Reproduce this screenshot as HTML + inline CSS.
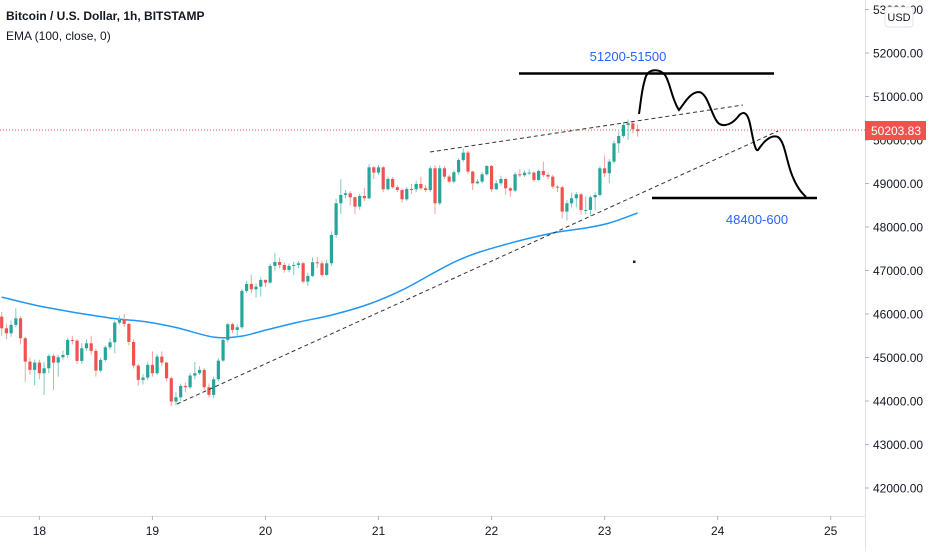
<!DOCTYPE html>
<html><head><meta charset="utf-8">
<style>
html,body{margin:0;padding:0;background:#fff;}
body{width:932px;height:550px;overflow:hidden;font-family:"Liberation Sans",sans-serif;}
svg text{font-family:"Liberation Sans",sans-serif;}
</style></head>
<body>
<svg id="chart" width="932" height="550" viewBox="0 0 932 550" xmlns="http://www.w3.org/2000/svg">
  <rect x="0" y="0" width="932" height="550" fill="#ffffff"/>
  <line x1="865.5" y1="0" x2="865.5" y2="550" stroke="#e0e3eb"/>
  <line x1="0" y1="516.5" x2="865" y2="516.5" stroke="#e0e3eb"/>
  <g id="yaxis"></g>
  <g id="xaxis"></g>
  <line x1="0" y1="130" x2="865" y2="130" stroke="#ef5350" stroke-width="1" stroke-dasharray="1,2"/>
  <g id="ema"></g>
  <g id="candles"></g>
  <g>
    <line x1="177" y1="404" x2="778" y2="131" stroke="#333" stroke-width="1" stroke-dasharray="4,3"/>
    <line x1="430" y1="152" x2="743" y2="105" stroke="#333" stroke-width="1" stroke-dasharray="4,3"/>
    <line x1="519" y1="73.5" x2="774" y2="73.5" stroke="#000" stroke-width="2.5"/>
    <line x1="652" y1="198" x2="817" y2="198" stroke="#000" stroke-width="2.5"/>
    <path d="M639,114 C641,100 642,88 646,76 C650,68 660,69 665,75 C670,82 672,100 679,110 C684,104 690,92 699,92 C707,93 710,110 716,120 C720,128 730,126 737,118 C742,111 747,110 750,124 C753,138 755,152 758,150 C762,144 770,134 778,137 C785,142 786,160 792,175 C797,188 802,193 806,197" fill="none" stroke="#000" stroke-width="2"/>
    <text x="628" y="61" font-size="13" fill="#2962ff" text-anchor="middle">51200-51500</text>
    <text x="757" y="224" font-size="13" fill="#2962ff" text-anchor="middle">48400-600</text>
    <rect x="633" y="260.5" width="2.5" height="2.5" fill="#222"/>
  </g>
  <rect x="865" y="121" width="61" height="19" fill="#ef5350"/>
  <text x="896" y="135" font-size="12" fill="#fff" text-anchor="middle">50203.83</text>
  <rect x="885" y="7" width="28" height="20" rx="3" fill="#fff" stroke="#e0e3eb"/>
  <text x="899" y="21" font-size="11" fill="#131722" text-anchor="middle">USD</text>
  <text x="6" y="20" font-size="12" font-weight="bold" fill="#131722">Bitcoin / U.S. Dollar, 1h, BITSTAMP</text>
  <text x="6" y="40" font-size="12" fill="#131722">EMA (100, close, 0)</text>
</svg>
<script>
const closes=[45672,45557,45749,45900,45442,44906,44715,44883,44638,44753,
45036,44883,45006,45059,45404,45389,44921,45213,45327,45151,
44699,44944,45235,45350,45802,45864,45772,45358,44814,44485,
44539,44830,44638,45021,44883,44523,43987,44086,44347,44316,
44584,44638,44715,44316,44140,44500,44929,45404,45764,45634,
45695,46530,46691,46568,46630,46783,46722,47105,47196,47128,
47013,47105,47128,47166,46745,46875,47189,47166,46898,47166,
47817,48545,48737,48775,48683,48469,48714,48660,49372,49250,
49372,48867,49104,48913,48851,48637,48874,48867,48989,48890,
48850,49350,48545,49350,49158,49043,49258,49541,49710,49273,
49005,49043,49212,49403,48867,49005,49104,48890,48836,49212,
49190,49250,49250,49082,49288,49197,49158,48928,48913,48354,
48545,48660,48752,48392,48392,48683,48737,49350,49235,49503,
49924,50093,50345,50384,50246,50204];
const firstOpen=45940;
const highs=[46050,45780,45850,46130,45950,45480,45000,44950,44950,44900,
45080,45090,45060,45160,45450,45500,45420,45330,45420,45500,
45200,45000,45280,45450,45850,45960,46000,45800,45420,44850,
44620,44900,45140,45080,45140,44900,44560,44200,44400,44420,
44640,44900,44800,44760,44400,44560,44980,45440,45800,45800,
45760,46580,46760,46900,46700,46850,46800,47160,47400,47300,
47180,47160,47200,47220,47200,46950,47300,47310,47230,47250,
47900,48650,49100,48850,48820,48700,48760,48900,49450,49400,
49420,49400,49160,49150,48960,48880,48920,48990,49060,49160,
48960,49400,49420,49420,49400,49200,49300,49580,49800,49750,
49300,49100,49260,49420,49430,49080,49180,49130,48920,49260,
49330,49300,49330,49280,49320,49500,49250,49200,48960,48950,
48620,48790,48800,48780,48700,48720,48800,49400,49650,49560,
49990,50200,50420,50470,50440,50350];
const lows=[45500,45420,45480,45700,45300,44440,44600,44360,44500,44140,
44640,44250,44560,44950,44990,45300,44850,44850,45150,45060,
44560,44660,44900,45180,45100,45760,45700,45280,44750,44350,
44380,44480,44560,44600,44800,44450,43880,43900,44000,44200,
44280,44500,44600,44250,44080,44060,44450,44900,45350,45560,
45480,45650,46480,46480,46380,46400,46620,46700,47000,47050,
46950,46960,46900,47050,46700,46650,46850,47060,46850,46880,
47100,47750,48300,48650,48500,48300,48400,48600,48640,49100,
49200,48800,48840,48880,48800,48560,48600,48760,48800,48850,
48800,48800,48300,48500,49100,49000,49000,49200,49500,49220,
48850,48980,49000,49180,48800,48850,48950,48750,48700,48800,
49150,49150,49200,49040,49060,49150,49100,48880,48800,48200,
48150,48450,48450,48280,48300,48250,48380,48700,49150,49000,
49460,49700,50050,50000,50150,50080];
const emaIdx=[0,9,23,30,37,45,51,56,63,70,78,85,97,107,117,124,129,135];
const emaVal=[46389,46160,45907,45830,45690,45470,45492,45630,45814,45975,46230,46550,47240,47600,47861,47976,48091,48321];
const yTicks=[42000,43000,44000,45000,46000,47000,48000,49000,50000,51000,52000,53000];
const dayLabels=["18","19","20","21","22","23","24","25"];
const dayIdx=[8,32,56,80,104,128,152,176];

const NS="http://www.w3.org/2000/svg";
function yOf(p){return 140-(p-50000)*0.0435;}
function xOf(i){return 1.7+i*4.71;}
function mk(tag,attrs,parent){const e=document.createElementNS(NS,tag);for(const k in attrs)e.setAttribute(k,attrs[k]);parent.appendChild(e);return e;}

const ya=document.getElementById('yaxis');
yTicks.forEach(function(v){
  const t=mk('text',{x:873,y:yOf(v)+4.5,'font-size':12,fill:'#131722'},ya);
  t.textContent=v.toFixed(2);
  
  
  const l=mk('line',{x1:865,x2:869,y1:yOf(v),y2:yOf(v),stroke:'#b2b5be'},ya);
  
  
});
const xa=document.getElementById('xaxis');
dayLabels.forEach(function(d,k){
  const x=xOf(dayIdx[k]);
  const t=mk('text',{x:x,y:535,'font-size':12,fill:'#131722','text-anchor':'middle'},xa);
  t.textContent=d;
  
  
  const l=mk('line',{x1:x,x2:x,y1:516,y2:520,stroke:'#b2b5be'},xa);
  
  
});

const eg=document.getElementById('ema');
const pts=emaIdx.map(function(i,k){return [xOf(i),yOf(emaVal[k])];});
let d='M'+pts[0][0].toFixed(1)+','+pts[0][1].toFixed(1);
for(let k=0;k<pts.length-1;k++){
  const p0=pts[Math.max(0,k-1)],p1=pts[k],p2=pts[k+1],p3=pts[Math.min(pts.length-1,k+2)];
  const c1=[p1[0]+(p2[0]-p0[0])/6,p1[1]+(p2[1]-p0[1])/6];
  const c2=[p2[0]-(p3[0]-p1[0])/6,p2[1]-(p3[1]-p1[1])/6];
  d+='C'+c1[0].toFixed(1)+','+c1[1].toFixed(1)+' '+c2[0].toFixed(1)+','+c2[1].toFixed(1)+' '+p2[0].toFixed(1)+','+p2[1].toFixed(1);
}
const ep=mk('path',{d:d,fill:'none',stroke:'#2196f3','stroke-width':1.5},eg);



const cg=document.getElementById('candles');
closes.forEach(function(c,i){
  const o=i===0?firstOpen:closes[i-1];
  const up=c>=o;
  const col=up?'#26a69a':'#ef5350';
  const wcol=up?'#7fcac2':'#f4a09e';
  const x=xOf(i);
  const w=mk('line',{x1:x,x2:x,y1:yOf(highs[i]),y2:yOf(lows[i]),stroke:wcol,'stroke-width':1},cg);
  
  
  const top=yOf(Math.max(o,c)),bot=yOf(Math.min(o,c));
  const b=mk('rect',{x:x-1.6,y:top,width:3.2,height:Math.max(1,bot-top),fill:col},cg);
  
  
});
</script>
</body></html>
